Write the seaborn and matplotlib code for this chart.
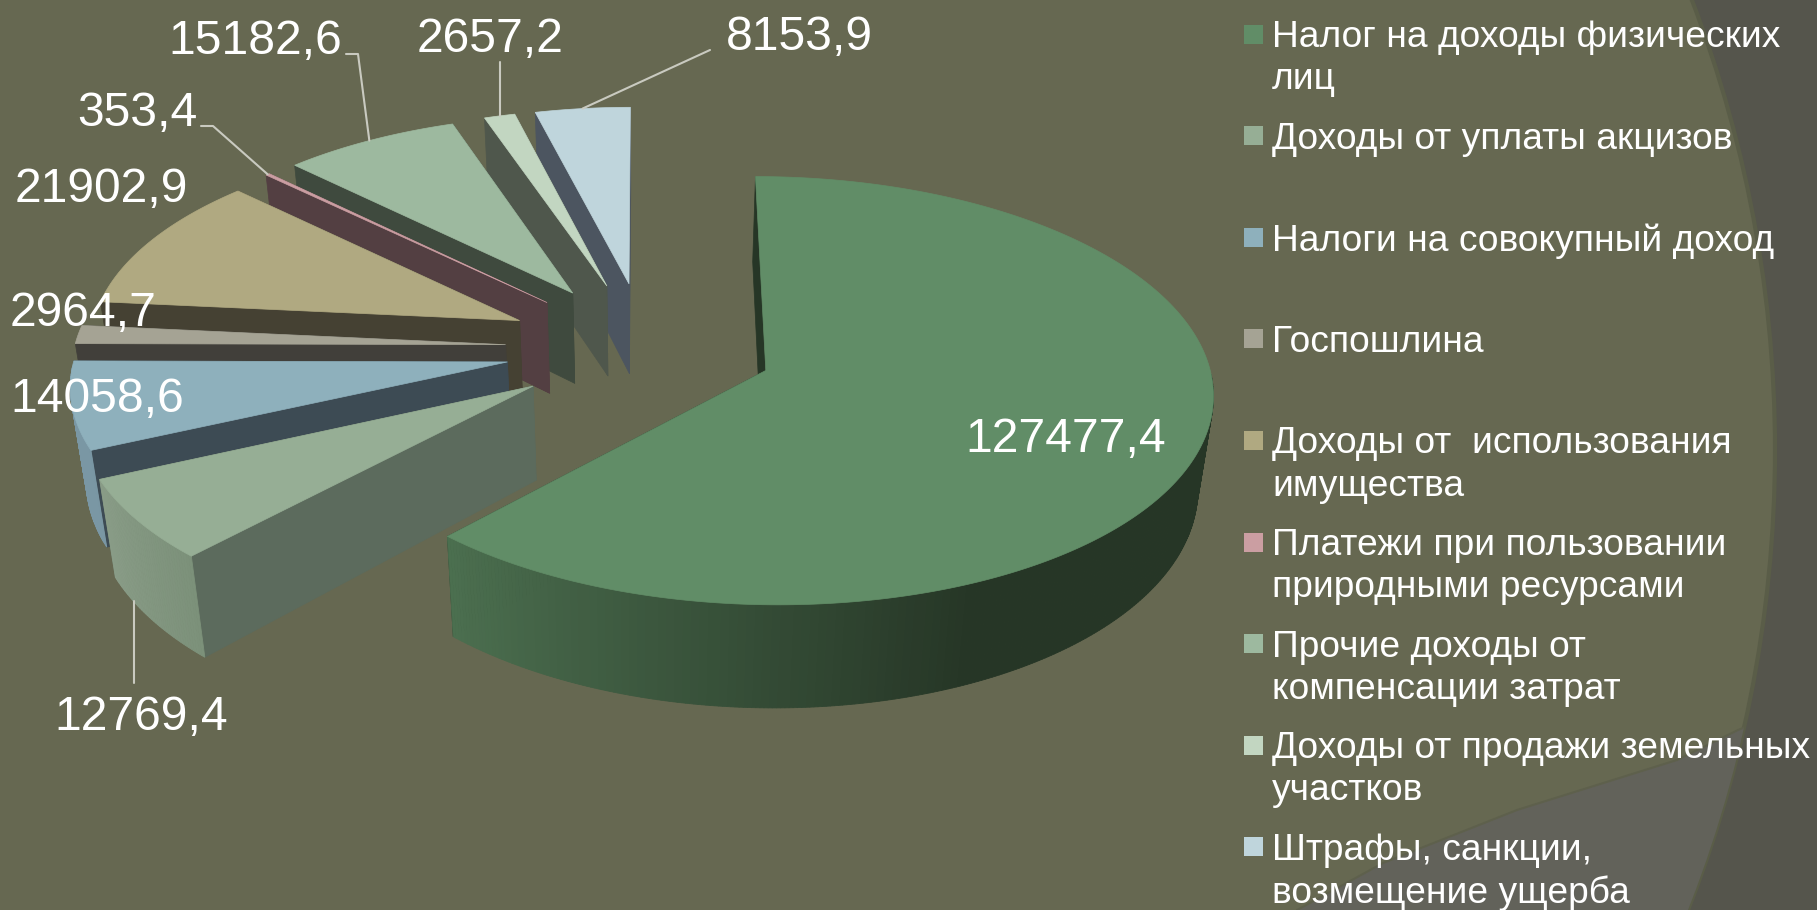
import numpy as np
import seaborn as sns
import matplotlib.pyplot as plt
from matplotlib.patches import Circle, Polygon, Rectangle

categories = ["Налог на доходы физических\nлиц", "Доходы от уплаты акцизов", "Налоги на совокупный доход",
              "Госпошлина", "Доходы от  использования\nимущества", "Платежи при пользовании\nприродными ресурсами",
              "Прочие доходы от\nкомпенсации затрат", "Доходы от продажи земельных\nучастков",
              "Штрафы, санкции,\nвозмещение ущерба"]
values = [127477.4, 12769.4, 14058.6, 2964.7, 21902.9, 353.4, 15182.6, 2657.2, 8153.9]
value_labels = ["127477,4", "12769,4", "14058,6", "2964,7", "21902,9", "353,4", "15182,6", "2657,2", "8153,9"]

top_colors = ["#618d67", "#96ae95", "#8eb0bc", "#a5a394", "#b0a981", "#cb9ea2", "#9db99f", "#c2d6c1", "#bfd5dc"]
wall_colors = ["#263626", "#5c6b5d", "#3d4b54", "#413f3a", "#454133", "#533f42", "#3f4a3e", "#4f574c", "#4c5560"]
arc_dark = ["#263626", "#7c917a", "#7a97a4", "#8a8879", "#8d8768", "#a07d80", "#7e9480", "#9bab9a", "#98aab0"]
arc_light = ["#4c7050", "#8a9d88", "#7a97a4", "#8a8879", "#8d8768", "#a07d80", "#7e9480", "#9bab9a", "#98aab0"]

# label centres and leader starts, in pixels
label_pos = [(1066, 440), (141, 718), (97, 399), (83, 313), (101, 190), (137, 114), (255, 41), (490, 39), (799, 38)]
leader_pts = {1: [(None, 683)], 5: [(201, 126), (213, 126)], 6: [(346, 54), (358, 54)], 7: [(None, 62)], 8: [(710, 50)]}
leader_at = {1: 0.72}   # where on the rim the leader lands, 0.5 is the middle

BG = "#666851"
CX, CY = 646, 348      # where the pie axis meets the picture
R, K = 440, 208        # screen radius across / along the view
PERSP = 0.0935
EXPLODE = [0.29, 0.31, 0.32, 0.32, 0.32, 0.32, 0.32, 0.32, 0.32]
RADIUS = [1, 1.01, 0.98, 0.98, 0.98, 0.98, 0.98, 0.98, 0.98]
DEPTH = 97
Z_SHRINK = 0.028
DARK_END = np.radians(156)   # rim of the big slice is flat dark up to here


def project(x, y, z=0.0):
    s = 1 / (1 + PERSP * y + Z_SHRINK * z)
    return CX + R * x * s, CY - K * y * s + DEPTH * z * s ** 1.7


def rim_point(i, mid, ang):
    # angles in radians, clockwise from north
    ox, oy = EXPLODE[i] * np.sin(mid), EXPLODE[i] * np.cos(mid)
    return ox + RADIUS[i] * np.sin(ang), oy + RADIUS[i] * np.cos(ang)


sns.set_theme(style="white")
plt.rcParams["font.family"] = ["Liberation Sans", "DejaVu Sans"]

fig = plt.figure(figsize=(18.17, 9.10), dpi=100)
ax = fig.add_axes([0, 0, 1, 1])
ax.set_xlim(0, 1817)
ax.set_ylim(910, 0)
ax.axis("off")
fig.patch.set_facecolor(BG)

# background of the slide template
ax.add_patch(Rectangle((0, 0), 1817, 910, fc="#55554c", ec="none", zorder=0))
ax.add_patch(Circle((515, 450), 1260, fc=BG, ec="#5a5d48", lw=3, zorder=0.2))
band_xy = [(1297, 910), (1383, 863), (1517, 810), (1677, 760), (1738, 730), (1817, 697)]
band = Polygon(band_xy + [(1817, 910)], fc="#62625a", ec="none", zorder=0.3)
ax.add_patch(band)
band.set_clip_path(Circle((515, 450), 1260, transform=ax.transData))
band_edge, = ax.plot([p[0] for p in band_xy], [p[1] for p in band_xy], color="#5e604c", lw=1.5, zorder=0.4)
band_edge.set_clip_path(Circle((515, 450), 1260, transform=ax.transData))

frac = np.array(values) / np.sum(values)
edges = np.concatenate([[0], np.cumsum(frac)]) * 2 * np.pi
order = [8, 7, 6, 5, 4, 3, 2, 1, 0]
mids = {}

for i in order:
    a0, a1 = edges[i], edges[i + 1]
    mid = (a0 + a1) / 2
    mids[i] = mid
    ts = np.linspace(a0, a1, max(int(np.degrees(a1 - a0)), 2) * 2 + 1)
    ox, oy = EXPLODE[i] * np.sin(mid), EXPLODE[i] * np.cos(mid)

    # radial walls first
    for t in (a0, a1):
        ex, ey = rim_point(i, mid, t)
        wall = [project(ox, oy), project(ex, ey), project(ex, ey, 1), project(ox, oy, 1)]
        ax.add_patch(Polygon(wall, fc=wall_colors[i], ec=wall_colors[i], lw=0.5, zorder=2 + (8 - i) * 2))

    # rim, only the strips that face the viewer, shaded one by one
    start = max(a0, DARK_END)
    shades = sns.blend_palette([arc_dark[i], arc_light[i]], 64)
    for j in range(len(ts) - 1):
        tm = (ts[j] + ts[j + 1]) / 2
        if np.cos(tm) > -0.02:
            continue
        pos = np.clip((tm - start) / (a1 - start), 0, 1)
        col = shades[int(pos * 63)]
        xa, ya = rim_point(i, mid, ts[j])
        xb, yb = rim_point(i, mid, ts[j + 1])
        quad = [project(xa, ya), project(xb, yb), project(xb, yb, 1), project(xa, ya, 1)]
        ax.add_patch(Polygon(quad, fc=col, ec=col, lw=0.6, zorder=2.5 + (8 - i) * 2))

    # top face
    rim = np.array([project(*rim_point(i, mid, t)) for t in ts])
    face = np.vstack([[project(ox, oy)], rim])
    ax.add_patch(Polygon(face, fc=top_colors[i], ec=top_colors[i], lw=0.5, zorder=3 + (8 - i) * 2))

# data labels and leaders
for i, lab in enumerate(value_labels):
    ax.text(label_pos[i][0], label_pos[i][1], lab, color="white", fontsize=34.6, ha="center", va="center", zorder=30)
    if i in leader_pts:
        at = edges[i] + leader_at.get(i, 0.5) * (edges[i + 1] - edges[i])
        end = project(*rim_point(i, mids[i], at), 1 if i == 1 else 0)
        line = [(end[0] if p[0] is None else p[0], p[1]) for p in leader_pts[i]] + [end]
        ax.plot([p[0] for p in line], [p[1] for p in line], color="#c9cac0", lw=1.5, zorder=29)

# legend
for i, lab in enumerate(categories):
    y = 34 + i * 101.6
    ax.add_patch(Rectangle((1244, y - 9.5), 19, 19, fc=top_colors[i], ec="none", zorder=30))
    ax.text(1272, y - 14, lab, color="white", fontsize=26.7, ha="left", va="top", linespacing=1.27, zorder=30)

fig.savefig("out.png", dpi=100, facecolor=BG)
